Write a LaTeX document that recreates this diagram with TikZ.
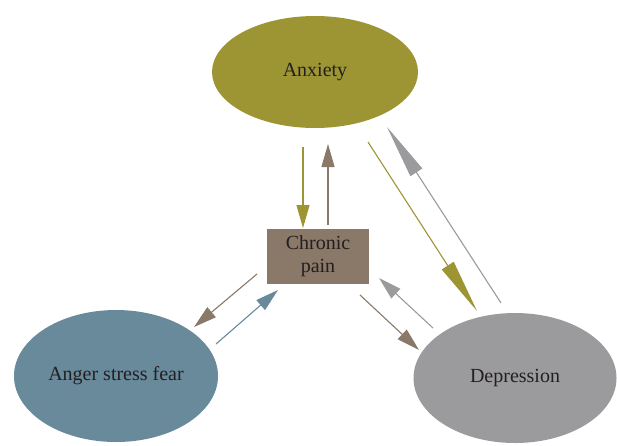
\documentclass[tikz,border=0pt]{standalone}
\usepackage{fontspec}
\setmainfont{Liberation Serif}
\usetikzlibrary{shapes.geometric,arrows.meta}
\definecolor{olive}{RGB}{157,149,52}
\definecolor{bluegr}{RGB}{104,138,155}
\definecolor{grayd}{RGB}{155,155,158}
\definecolor{brownc}{RGB}{138,120,104}
\definecolor{txt}{RGB}{35,31,32}
\tikzset{
  blob/.style={ellipse, inner sep=0pt, text=txt, font=\fontsize{20}{22}\selectfont},
  conn/.style={line width=1.1pt, -{Triangle[length=23pt,width=13pt]}},
  longconn/.style={line width=1.1pt, -{Triangle[length=54pt,width=14pt]}},
}
\begin{document}
\begin{tikzpicture}[x=1pt,y=-1pt]
\useasboundingbox (0,0) rectangle (617,445);
\node[blob, fill=olive, minimum width=206pt, minimum height=112pt] (anx) at (315,72) {Anxiety};
\node[blob, fill=bluegr, minimum width=204pt, minimum height=132pt] (ang) at (116,376) {Anger stress fear};
\node[blob, fill=grayd, minimum width=203pt, minimum height=130pt] (dep) at (515,378) {Depression};
\node[fill=brownc, minimum width=102pt, minimum height=55pt, inner sep=0pt, text=txt,
      align=center, font=\fontsize{20}{23}\selectfont] (chr) at (318,256.5) {Chronic\\pain};
% endpoints
\coordinate (a1) at (303,147); \coordinate (c1) at (303,228);
\coordinate (c2) at (328,225); \coordinate (a2) at (328,144);
\coordinate (c3) at (257,274); \coordinate (g1) at (194,327);
\coordinate (g2) at (216,344); \coordinate (c4) at (278,290);
\coordinate (c5) at (360,295); \coordinate (d1) at (419,350);
\coordinate (d2) at (433,328); \coordinate (c6) at (379,278);
\coordinate (a3) at (368,142); \coordinate (d3) at (477,311);
\coordinate (d4) at (501,303); \coordinate (a4) at (387,127);
\draw[conn, olive] (a1) -- (c1);
\draw[conn, brownc] (c2) -- (a2);
\draw[conn, brownc] (c3) -- (g1);
\draw[conn, bluegr] (g2) -- (c4);
\draw[conn, brownc] (c5) -- (d1);
\draw[conn, grayd] (d2) -- (c6);
\draw[longconn, olive] (a3) -- (d3);
\draw[longconn, grayd] (d4) -- (a4);
\end{tikzpicture}
\end{document}
